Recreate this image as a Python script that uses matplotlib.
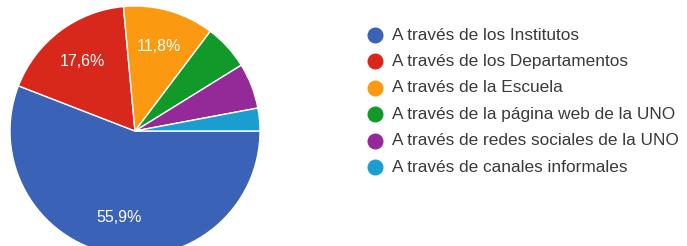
import matplotlib
matplotlib.use("Agg")
import matplotlib.pyplot as plt

categorias = ["A través de los Institutos", "A través de los Departamentos",
              "A través de la Escuela", "A través de la página web de la UNO",
              "A través de redes sociales de la UNO", "A través de canales informales"]
respuestas = [19, 6, 4, 2, 2, 1]
colores = ["#3a62b6", "#d8281c", "#fb9a10", "#119a2a", "#932a98", "#1a9ed0"]

plt.rcParams['font.family'] = ['Liberation Sans', 'DejaVu Sans']

fig = plt.figure(figsize=(6.87, 2.46), dpi=100)
ax = fig.add_axes([0, 0, 1, 1])

def etiqueta(p):
    # solo se rotulan las porciones grandes, como en el original
    return f"{p:.1f}%".replace(".", ",") if p > 10 else ""

wedges, textos, pcts = ax.pie(respuestas, colors=colores, startangle=0, counterclock=False,
                              center=(135, 115), radius=125, autopct=etiqueta, pctdistance=0.7,
                              wedgeprops={"edgecolor": "white", "linewidth": 1},
                              textprops={"color": "white", "fontsize": 11.5})
ax.set_xlim(0, 687)
ax.set_ylim(0, 246)
ax.axis("off")

for i, nombre in enumerate(categorias):
    y = 246 - (35 + i * 26.4)
    ax.plot(375, y, "o", color=colores[i], markersize=10.5, clip_on=False)
    ax.text(392, y, nombre, color="#3a3a3a", fontsize=12.4, va="center", ha="left")

fig.savefig("out.png", dpi=100)
